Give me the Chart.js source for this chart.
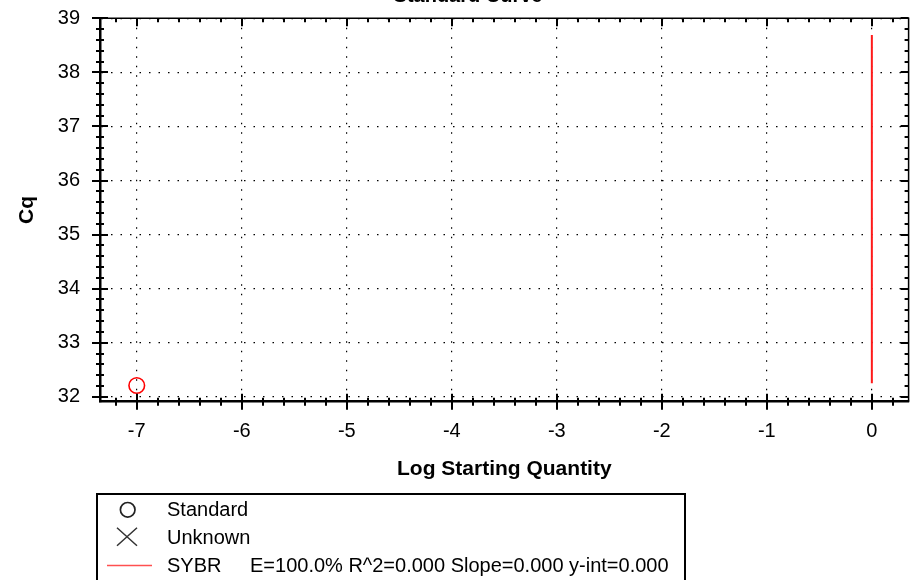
<!DOCTYPE html>
<html>
<head>
<meta charset="utf-8">
<title>Standard Curve</title>
<script src="https://cdn.jsdelivr.net/npm/chart.js@4.4.1/dist/chart.umd.min.js"></script>
<style>
  body { margin: 0; background: #fff; font-family: 'Liberation Sans', Arial, sans-serif; }
  #wrap { position: relative; width: 918px; height: 580px; overflow: hidden; }
  #legend {
    position: absolute; left: 96px; top: 493px; width: 590px; height: 120px;
    box-sizing: border-box; border: 2px solid #000; font-size: 20px; color: #000;
  }
  .row { position: relative; height: 28px; line-height: 28px; }
  .row svg { position: absolute; left: 0; top: 0; }
  .row .lbl { position: absolute; left: 69px; top: 0; white-space: nowrap; }
  .row .stats { position: absolute; left: 152px; top: 0; white-space: nowrap; }
</style>
</head>
<body>
<div id="wrap">
  <canvas id="curveChart" width="918" height="580"></canvas>
  <div id="legend">
    <div class="row">
      <svg width="60" height="28"><circle cx="29.7" cy="14.8" r="7.3" fill="none" stroke="#222" stroke-width="1.7"/></svg>
      <span class="lbl" id="lgStandard"></span>
    </div>
    <div class="row">
      <svg width="60" height="28"><path d="M19 4.8 L39 22.8 M39 4.8 L19 22.8" stroke="#333" stroke-width="1.5" fill="none"/></svg>
      <span class="lbl" id="lgUnknown"></span>
    </div>
    <div class="row">
      <svg width="60" height="28"><line x1="9" y1="14.5" x2="54" y2="14.5" stroke="#ff5050" stroke-width="1.6"/></svg>
      <span class="lbl" id="lgFit"></span>
      <span class="stats" id="lgStats"></span>
    </div>
  </div>
</div>
<script>
// values
const xTickValues = [-7, -6, -5, -4, -3, -2, -1, 0];
const yTickValues = [32, 33, 34, 35, 36, 37, 38, 39];

const standardLogQty = [-7];
const standardCq = [32.21];

const unknownLogQty = [];
const unknownCq = [];

const fitLogQty = [0, 0];
const fitCq = [32.25, 38.69];

const seriesNames = ['Standard', 'Unknown', 'SYBR'];
const fitStats = 'E=100.0% R^2=0.000 Slope=0.000 y-int=0.000';

const X_MIN = -7.35, X_MAX = 0.35;
const Y_MIN = 31.91, Y_MAX = 39;

Chart.defaults.font.family = "'Liberation Sans', Arial, sans-serif";
Chart.defaults.color = '#000';

function toPoints(xs, ys) {
    return xs.map((x, i) => ({ x: x, y: ys[i] }));
}

// top/right frame, minor + major ticks, and the clipped title
const framePlugin = {
    id: 'frame',
    afterDraw(chart) {
        const { ctx, chartArea: a, scales: { x, y } } = chart;
        ctx.save();
        ctx.strokeStyle = '#000';
        ctx.lineWidth = 1.5;
        ctx.beginPath();
        ctx.moveTo(a.left, a.top);
        ctx.lineTo(a.right, a.top);
        ctx.lineTo(a.right, a.bottom);
        ctx.stroke();

        ctx.lineWidth = 2;
        ctx.beginPath();
        for (let i = Math.ceil(X_MIN * 5); i <= Math.floor(X_MAX * 5); i++) {
            const major = i % 5 === 0;
            const px = Math.round(x.getPixelForValue(i / 5));
            const len = major ? 8 : 4;
            ctx.moveTo(px, a.bottom - len);
            ctx.lineTo(px, a.bottom + len);
            ctx.moveTo(px, a.top);
            ctx.lineTo(px, a.top + (major ? 8 : 4));
        }
        for (let i = Math.ceil(Y_MIN * 5); i <= Math.floor(Y_MAX * 5); i++) {
            const major = i % 5 === 0;
            const py = Math.round(y.getPixelForValue(i / 5));
            const len = major ? 8 : 4;
            ctx.moveTo(a.left - len, py);
            ctx.lineTo(a.left + len, py);
            ctx.moveTo(a.right, py);
            ctx.lineTo(a.right - (major ? 8 : 4), py);
        }
        ctx.stroke();

        ctx.fillStyle = '#000';
        ctx.font = "bold 20px 'Liberation Sans', Arial, sans-serif";
        ctx.textAlign = 'center';
        ctx.textBaseline = 'alphabetic';
        ctx.fillText('Standard Curve', 468, 2);
        ctx.restore();
    }
};

const axisCommon = {
    type: 'linear',
    grid: { color: '#000', lineWidth: 1.2, drawTicks: false },
    border: { color: '#000', width: 2.5, dash: [1.5, 8] },
    ticks: { color: '#000', font: { size: 20 } }
};

new Chart(document.getElementById('curveChart').getContext('2d'), {
    type: 'scatter',
    data: {
        datasets: [{
            label: seriesNames[0],
            data: toPoints(standardLogQty, standardCq),
            pointStyle: 'circle',
            pointRadius: 7.8,
            pointBorderWidth: 1.6,
            borderColor: '#ff0000',
            backgroundColor: 'rgba(0,0,0,0)',
            showLine: false
        },
        {
            label: seriesNames[1],
            data: toPoints(unknownLogQty, unknownCq),
            pointStyle: 'crossRot',
            pointRadius: 8,
            borderColor: '#ff0000',
            showLine: false
        },
        {
            label: seriesNames[2],
            data: toPoints(fitLogQty, fitCq),
            showLine: true,
            pointRadius: 0,
            borderColor: '#ff1a1a',
            borderWidth: 2
        }]
    },
    options: {
        responsive: false,
        animation: false,
        events: [],
        layout: { padding: { top: 18.3, right: 7.5, bottom: 90, left: 0 } },
        plugins: {
            legend: { display: false },
            tooltip: { enabled: false }
        },
        scales: {
            x: {
                ...axisCommon,
                min: X_MIN,
                max: X_MAX,
                afterBuildTicks: s => { s.ticks = xTickValues.map(v => ({ value: v })); },
                afterFit: s => { s.height = 88.3; s.paddingLeft = 0; s.paddingRight = 0; },
                ticks: { ...axisCommon.ticks, padding: 18 },
                title: {
                    display: true,
                    text: 'Log Starting Quantity',
                    color: '#000',
                    font: { size: 21, weight: 'bold' },
                    padding: { top: 0, bottom: 8 }
                }
            },
            y: {
                ...axisCommon,
                min: Y_MIN,
                max: Y_MAX,
                afterBuildTicks: s => { s.ticks = yTickValues.map(v => ({ value: v })); },
                afterFit: s => { s.width = 100; s.paddingTop = 0; s.paddingBottom = 0; },
                ticks: { ...axisCommon.ticks, padding: 20 },
                title: {
                    display: true,
                    text: 'Cq',
                    color: '#000',
                    font: { size: 21, weight: 'bold' },
                    padding: { top: 15, bottom: 0 }
                }
            }
        }
    },
    plugins: [framePlugin]
});

document.getElementById('lgStandard').textContent = seriesNames[0];
document.getElementById('lgUnknown').textContent = seriesNames[1];
document.getElementById('lgFit').textContent = seriesNames[2];
document.getElementById('lgStats').textContent = fitStats;
</script>
</body>
</html>
